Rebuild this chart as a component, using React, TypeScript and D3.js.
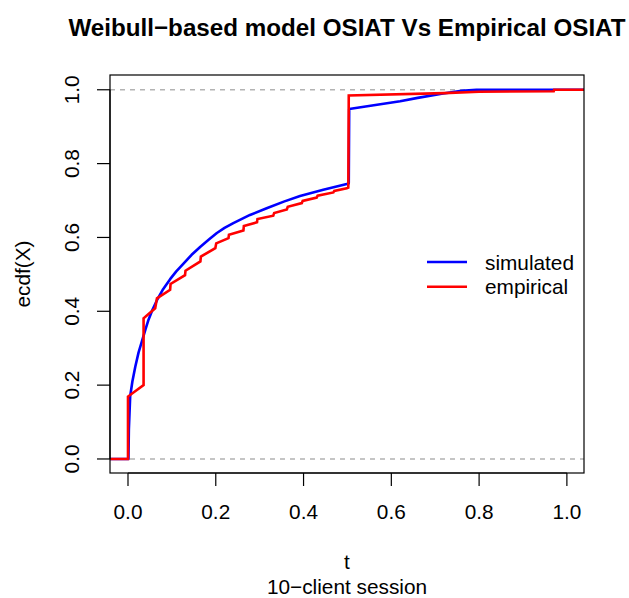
import React from "react";
import * as d3 from "d3";

// Simulated (Weibull-based model) ECDF: [t, F]
const simulatedT = [-0.041, 0.001, 0.002, 0.005, 0.01, 0.0166, 0.024, 0.032, 0.04, 0.047, 0.056, 0.066, 0.08, 0.096, 0.11, 0.127, 0.145, 0.165, 0.185, 0.2025, 0.22, 0.24, 0.278, 0.316, 0.355, 0.392, 0.445, 0.4985, 0.503, 0.504, 0.56, 0.62, 0.66, 0.718, 0.76, 0.794, 1.039];
const simulatedF = [0, 0, 0.08, 0.17, 0.21, 0.25, 0.288, 0.32, 0.352, 0.378, 0.405, 0.43, 0.46, 0.487, 0.508, 0.53, 0.553, 0.575, 0.595, 0.612, 0.626, 0.639, 0.661, 0.679, 0.697, 0.712, 0.729, 0.745, 0.746, 0.948, 0.958, 0.969, 0.978, 0.99, 0.997, 1.0, 1.0];

// Empirical ECDF: [t, F]
const empiricalT = [-0.041, 0.0, 0.0, 0.0355, 0.0355, 0.062, 0.066, 0.096, 0.097, 0.13, 0.131, 0.165, 0.166, 0.199, 0.201, 0.229, 0.23, 0.263, 0.264, 0.294, 0.295, 0.331, 0.333, 0.362, 0.364, 0.396, 0.398, 0.43, 0.432, 0.468, 0.47, 0.4985, 0.502, 0.503, 0.72, 0.8, 0.97, 0.971, 1.039];
const empiricalF = [0, 0, 0.169, 0.2, 0.381, 0.408, 0.435, 0.458, 0.474, 0.498, 0.51, 0.535, 0.548, 0.571, 0.584, 0.598, 0.607, 0.619, 0.631, 0.641, 0.65, 0.659, 0.666, 0.676, 0.683, 0.693, 0.699, 0.708, 0.713, 0.722, 0.726, 0.733, 0.735, 0.9846, 0.991, 0.9946, 0.996, 1.0, 1.0];

const xTicks = [0, 0.2, 0.4, 0.6, 0.8, 1.0];
const yTicks = [0, 0.2, 0.4, 0.6, 0.8, 1.0];
const legendLabels = ["simulated", "empirical"];
const seriesColors = ["#0000FF", "#FF0000"];
const refLines = [0, 1];

const titleText = "Weibull\u2212based model OSIAT Vs Empirical OSIAT";
const xLabel = "t";
const subLabel = "10\u2212client session";
const yLabel = "ecdf(X)";

const W = 629;
const H = 598;
const FONT = "'Liberation Sans', Arial, Helvetica, sans-serif";

export default function App() {
  const left = 110, right = 584, top = 75, bottom = 473;
  const x = d3.scaleLinear().domain([-0.041, 1.039]).range([left, right]);
  const y = d3.scaleLinear().domain([-0.038, 1.04]).range([bottom, top]);
  const line = d3
    .line<[number, number]>()
    .x((d) => x(d[0]))
    .y((d) => y(d[1]));
  const sim: [number, number][] = simulatedT.map((t, i) => [t, simulatedF[i]]);
  const emp: [number, number][] = empiricalT.map((t, i) => [t, empiricalF[i]]);
  const fs = 20.8;

  return (
    <svg
      width={W}
      height={H}
      style={{ position: "absolute", left: 0, top: 0, background: "#fff" }}
      fontFamily={FONT}
    >
      <rect x={0} y={0} width={W} height={H} fill="#fff" />
      <defs>
        <clipPath id="plotclip">
          <rect x={left} y={top} width={right - left} height={bottom - top} />
        </clipPath>
      </defs>
      {/* title */}
      <text x={(left + right) / 2} y={36} textAnchor="middle" fontWeight="bold" fontSize={24.2} fill="#000">
        {titleText}
      </text>
      {/* reference dashed lines */}
      {refLines.map((v) => (
        <line
          key={v}
          x1={left}
          x2={right}
          y1={y(v)}
          y2={y(v)}
          stroke="#b3b3b3"
          strokeWidth={1.4}
          strokeDasharray="5,5"
        />
      ))}
      <g clipPath="url(#plotclip)">
        <path d={line(sim) || ""} fill="none" stroke={seriesColors[0]} strokeWidth={2.6} strokeLinejoin="round" />
        <path d={line(emp) || ""} fill="none" stroke={seriesColors[1]} strokeWidth={2.6} />
      </g>
      {/* box */}
      <rect x={left} y={top} width={right - left} height={bottom - top} fill="none" stroke="#000" strokeWidth={1.2} />
      {/* x axis */}
      <line x1={x(xTicks[0])} x2={x(xTicks[xTicks.length - 1])} y1={bottom} y2={bottom} stroke="#000" strokeWidth={1.2} />
      {xTicks.map((t) => (
        <g key={"x" + t}>
          <line x1={x(t)} x2={x(t)} y1={bottom} y2={bottom + 13} stroke="#000" strokeWidth={1.2} />
          <text x={x(t)} y={519} textAnchor="middle" fontSize={fs} fill="#000">
            {t.toFixed(1)}
          </text>
        </g>
      ))}
      {/* y axis */}
      <line x1={left} x2={left} y1={y(yTicks[0])} y2={y(yTicks[yTicks.length - 1])} stroke="#000" strokeWidth={1.2} />
      {yTicks.map((t) => (
        <g key={"y" + t}>
          <line x1={left - 13} x2={left} y1={y(t)} y2={y(t)} stroke="#000" strokeWidth={1.2} />
          <text transform={`translate(79,${y(t)}) rotate(-90)`} textAnchor="middle" fontSize={fs} fill="#000">
            {t.toFixed(1)}
          </text>
        </g>
      ))}
      {/* axis labels */}
      <text x={(left + right) / 2} y={569} textAnchor="middle" fontSize={fs} fill="#000">
        {xLabel}
      </text>
      <text x={(left + right) / 2} y={594} textAnchor="middle" fontSize={fs} fill="#000">
        {subLabel}
      </text>
      <text transform={`translate(30,${(top + bottom) / 2}) rotate(-90)`} textAnchor="middle" fontSize={fs} fill="#000">
        {yLabel}
      </text>
      {/* legend */}
      {legendLabels.map((lab, i) => {
        const ly = 262 + i * 24.7;
        return (
          <g key={lab}>
            <line x1={427} x2={467} y1={ly} y2={ly} stroke={seriesColors[i]} strokeWidth={2.6} />
            <text x={485} y={ly + 7.5} fontSize={fs} fill="#000">
              {lab}
            </text>
          </g>
        );
      })}
    </svg>
  );
}
